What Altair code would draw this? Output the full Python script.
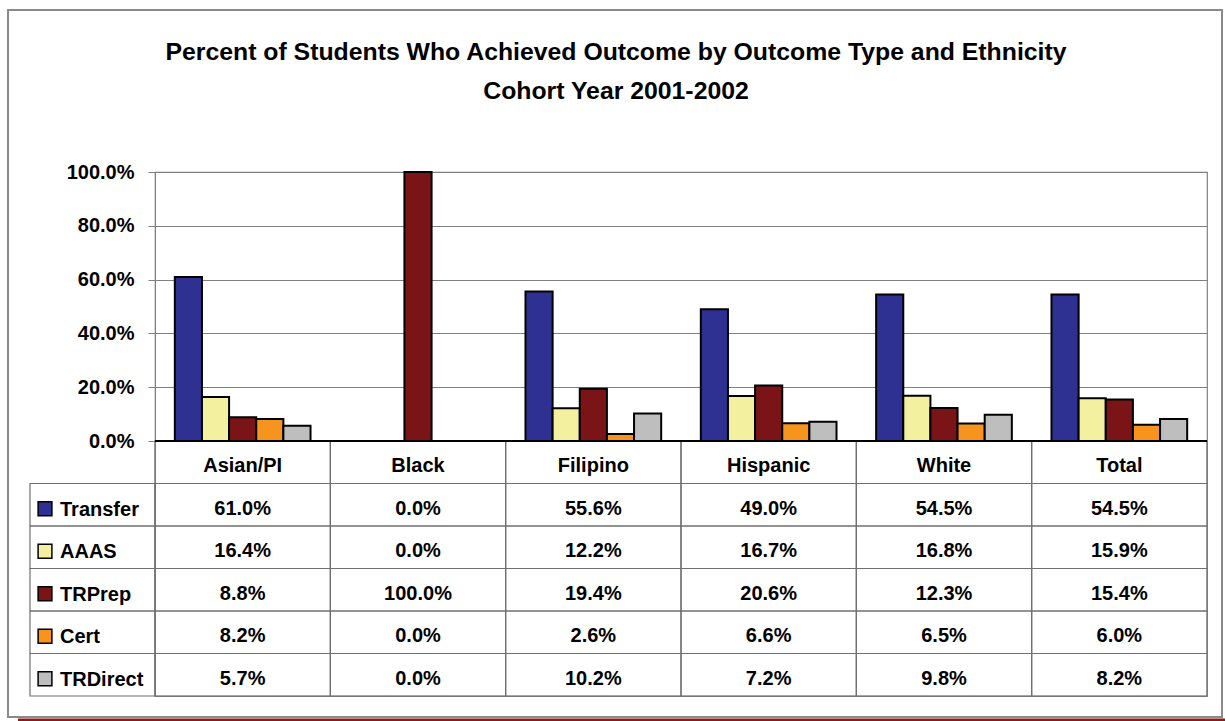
import altair as alt
import pandas as pd

# ---------------- data ----------------
categories = ["Asian/PI", "Black", "Filipino", "Hispanic", "White", "Total"]
series = ["Transfer", "AAAS", "TRPrep", "Cert", "TRDirect"]
transfer = [61.0, 0.0, 55.6, 49.0, 54.5, 54.5]
aaas = [16.4, 0.0, 12.2, 16.7, 16.8, 15.9]
trprep = [8.8, 100.0, 19.4, 20.6, 12.3, 15.4]
cert = [8.2, 0.0, 2.6, 6.6, 6.5, 6.0]
trdirect = [5.7, 0.0, 10.2, 7.2, 9.8, 8.2]
colors = ["#2E3192", "#F3F19F", "#7B1416", "#F7941D", "#BEBEBE"]
title_lines = ["Percent of Students Who Achieved Outcome by Outcome Type and Ethnicity",
               "Cohort Year 2001-2002"]

values = {"Transfer": transfer, "AAAS": aaas, "TRPrep": trprep,
          "Cert": cert, "TRDirect": trdirect}

HDR = " "
rows = [HDR] + series

bar_rows = []
cell_rows = []
for ci, c in enumerate(categories):
    cell_rows.append({"category": c, "row": HDR, "text": c})
    for s in series:
        v = values[s][ci]
        bar_rows.append({"category": c, "series": s, "value": v / 100.0})
        cell_rows.append({"category": c, "row": s, "text": f"{v:.1f}%"})
bars_df = pd.DataFrame(bar_rows)
cells_df = pd.DataFrame(cell_rows)
legend_df = pd.DataFrame({"row": series, "series": series})
title_df = pd.DataFrame({"line": title_lines, "idx": [0, 1]})
one = pd.DataFrame({"a": [0]})

FONT = "Liberation Sans"
W, H = 1052, 524
PLOT_H = 269

x_enc = alt.X("category:N", sort=categories,
              scale=alt.Scale(domain=categories, paddingInner=0, paddingOuter=0), axis=None)
row_enc = alt.Y("row:N", sort=rows,
                scale=alt.Scale(domain=rows, range=[PLOT_H, H], paddingInner=0, paddingOuter=0),
                axis=None)
color_enc = alt.Color("series:N", sort=series,
                      scale=alt.Scale(domain=series, range=colors), legend=None)

frame = alt.Chart(one).mark_rect(fillOpacity=0, stroke="#8a8a8a", strokeWidth=2).encode(
    x=alt.value(-147), x2=alt.value(1067), y=alt.value(-162), y2=alt.value(545))

red_line = alt.Chart(one).mark_rule(color="#8B1A1A", strokeWidth=3).encode(
    x=alt.value(-137), x2=alt.value(1070), y=alt.value(548))

bars = alt.Chart(bars_df).mark_bar(stroke="black", strokeWidth=2).encode(
    x=x_enc,
    xOffset=alt.XOffset("series:N", sort=series,
                        scale=alt.Scale(paddingInner=0, paddingOuter=0.73)),
    y=alt.Y("value:Q",
            scale=alt.Scale(domain=[0, 1], range=[PLOT_H, 0]),
            axis=alt.Axis(values=[0, 0.2, 0.4, 0.6, 0.8, 1.0], format=".1%",
                          title=None, labelFont=FONT, labelFontSize=20,
                          labelFontWeight="bold", labelColor="black",
                          tickSize=7, tickColor="#808080", domainColor="#808080",
                          gridColor="#808080", gridWidth=1, labelPadding=14)),
    color=color_enc,
)

baseline = alt.Chart(one).mark_rule(color="black", strokeWidth=2).encode(
    x=alt.value(0), x2=alt.value(W), y=alt.value(PLOT_H))

cells = alt.Chart(cells_df).mark_rect(fillOpacity=0, stroke="#707070", strokeWidth=1.2).encode(
    x=x_enc, y=row_enc)

legend_cells = alt.Chart(legend_df).mark_rect(fillOpacity=0, stroke="#707070", strokeWidth=1.2).encode(
    x=alt.value(-125), x2=alt.value(0), y=row_enc)

legend_sq = alt.Chart(legend_df).mark_square(size=190, opacity=1, filled=True,
                                             stroke="black", strokeWidth=1.5, yOffset=4).encode(
    x=alt.value(-110), y=row_enc, color=color_enc)

legend_txt = alt.Chart(legend_df).mark_text(align="left", baseline="middle", dy=5,
                                            font=FONT, fontSize=20, fontWeight="bold",
                                            color="black").encode(
    x=alt.value(-95), y=row_enc, text="series:N")

cell_txt = alt.Chart(cells_df).mark_text(align="center", baseline="middle", dy=4,
                                         font=FONT, fontSize=20, fontWeight="bold",
                                         color="black").encode(
    x=x_enc, y=row_enc, text="text:N")

title = alt.Chart(title_df).mark_text(align="center", baseline="middle",
                                      font=FONT, fontSize=24.8, fontWeight="bold",
                                      color="black").encode(
    x=alt.value(461),
    y=alt.Y("idx:O", scale=alt.Scale(type="point", domain=[0, 1], range=[-119, -80], padding=0),
            axis=None),
    text="line:N")

chart = alt.layer(
    frame, red_line, bars, cells, legend_cells, baseline,
    legend_sq, legend_txt, cell_txt, title
).resolve_scale(y="independent").properties(
    width=W, height=H,
    autosize=alt.AutoSizeParams(type="none"),
    padding={"left": 155, "top": 172, "right": 18, "bottom": 25},
    background="white",
).configure_view(stroke="#808080", strokeWidth=1.2)

chart.save("out.html", embed_options={"renderer": "svg", "actions": False})
